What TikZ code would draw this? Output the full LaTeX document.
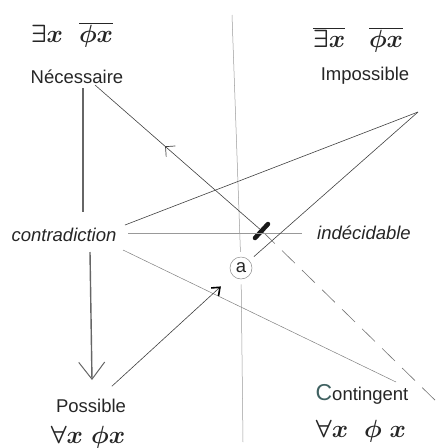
\documentclass[tikz,border=0pt]{standalone}
\usepackage{fontspec}
\setmainfont{Liberation Sans}
\usetikzlibrary{arrows.meta,decorations.markings}

\begin{document}
\begin{tikzpicture}[
  x=1pt, y=-1pt,
  term/.style={anchor=base, inner sep=2pt, text=black!85,
    font=\fontsize{18.5}{22}\selectfont},
  termit/.style={term, font=\fontsize{18.5}{22}\selectfont\itshape},
  hand/.style={anchor=base, inner sep=1pt, text=black!85,
    font=\fontsize{24}{28}\selectfont\boldmath},
  circ/.style={circle, draw=black!45, line width=.5pt, minimum size=22pt,
    inner sep=0pt, text=black!85, font=\fontsize{18.5}{22}\selectfont},
  stroke/.style={draw=black!75, line width=.6pt},
  faint/.style={draw=black!40, line width=.5pt},
  stem/.style={draw=black!60, line width=1.4pt},
  dashline/.style={draw=black!55, line width=.6pt, dash pattern=on 18pt off 10pt},
  nib/.style={draw=black!90, line width=4.5pt, line cap=round},
  midback/.style={postaction={decorate}, decoration={markings,
    mark=at position #1 with {\arrow{Straight Barb[length=7pt,width=14pt,line width=.7pt]}}}}
]
\useasboundingbox (0,0) rectangle (446,448);

\node[hand] (fnec) at (72,42) {$\exists x\;\;\overline{\phi x}$};
\node[term] (nec) at (77,83) {Nécessaire};
\node[hand] (fimp) at (358,47) {$\overline{\exists x}\;\;\;\overline{\phi x}$};
\node[term] (imp) at (365,80) {Impossible};
\node[termit] (contra) at (64,241) {contradiction};
\node[termit] (indec) at (364,239) {indécidable};
\node[term] (poss) at (91,412) {Possible};
\node[hand] (fposs) at (88,443) {$\forall x\;\phi x$};
\node[term] (cont) at (362,400) {{\color{teal!35!black!75}\fontsize{23}{26}\selectfont C}ontingent};
\node[hand] (fcont) at (361,437) {$\forall x\;\;\phi\;x$};
\node[circ] (a) at (241,268) {a};

\coordinate (vtop) at (232,15);
\coordinate (vbot) at (243,442);
\coordinate (tick) at (262,231);
\coordinate (imptip) at ([xshift=53pt,yshift=-32pt]imp.base);
\coordinate (contend) at ([xshift=78pt,yshift=-5pt]cont.base);

\draw[faint, shorten >=5pt] (vtop) -- (a);
\draw[faint, shorten <=5pt] (a) -- (vbot);
\draw[stem] ([xshift=6pt,yshift=-5pt]nec.base) -- ([xshift=19pt,yshift=29pt]contra.base);
\draw[stem, -{Straight Barb[length=17pt,width=26pt,line width=1pt]}]
  ([xshift=26pt,yshift=-11pt]contra.base) -- ([xshift=1pt,yshift=32pt]poss.base);
\draw[stroke, midback=.58] (tick) -- ([xshift=18pt,yshift=-2pt]nec.base);
\draw[dashline] (tick) -- (contend);
\draw[nib] (tick) ++(-7,7) -- ++(13,-14);
\draw[stroke] ([xshift=61pt,yshift=16pt]contra.base) -- (imptip);
\draw[faint] ([xshift=64pt,yshift=8pt]contra.base) -- ([xshift=-62pt,yshift=6pt]indec.base);
\draw[faint, draw=black!50] ([xshift=59pt,yshift=-9pt]contra.base) -- ([xshift=34pt,yshift=18pt]cont.base);
\draw[stroke, -{Straight Barb[length=7pt,width=11pt,line width=1.6pt,color=black]},
  shorten <=15pt, shorten >=16pt] (poss) -- (a);
\draw[stroke, shorten <=6pt] (a) -- (imptip);

\end{tikzpicture}
\end{document}
